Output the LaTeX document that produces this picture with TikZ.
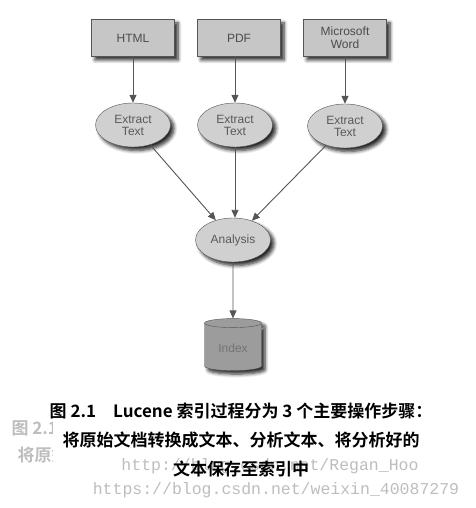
\documentclass[tikz,border=0pt]{standalone}
\usepackage{fontspec}
\setmainfont{Liberation Sans}
\newfontfamily\cjkfont{Noto Sans CJK SC}[BoldFont=* Bold]
\newfontfamily\markfont{Liberation Mono}
\usetikzlibrary{shapes.geometric, arrows.meta, shadows, shadows.blur}

\definecolor{boxgray}{HTML}{C6C6C6}
\definecolor{ovalgray}{HTML}{D0D0D0}
\definecolor{dbgray}{HTML}{9C9C9C}
\definecolor{linegray}{HTML}{555555}
\definecolor{markgray}{HTML}{BDBDBD}

\begin{document}
\begin{tikzpicture}[x=1pt, y=-1pt,
    softshadow/.style={blur shadow={shadow xshift=3.5pt, shadow yshift=-3.5pt,
      shadow blur radius=3.5pt, shadow blur steps=6, shadow opacity=85}},
    srcbox/.style={draw=linegray, fill=boxgray, minimum width=83pt,
      minimum height=37pt, align=center, text=black!70,
      font=\fontsize{12}{13}\selectfont, softshadow},
    oval/.style={ellipse, draw=linegray, fill=ovalgray, minimum width=75pt,
      minimum height=44pt, inner sep=0pt, align=center, text=black!65,
      font=\fontsize{12}{12}\selectfont, softshadow},
    store/.style={cylinder, shape border rotate=90, aspect=0.25,
      draw=linegray, fill=dbgray, minimum width=57pt, minimum height=52pt,
      text=black!55, font=\fontsize{12}{13}\selectfont, softshadow},
    flow/.style={draw=linegray, line width=0.9pt,
      -{Triangle[length=8pt, width=7pt]}},
    caption/.style={font=\cjkfont\bfseries\fontsize{17}{20}\selectfont},
    watermark/.style={font=\markfont\fontsize{16.5}{18}\selectfont, text=markgray}
  ]
  \useasboundingbox (0,0) rectangle (475,508);

  % source documents
  \node[srcbox] (html) at (133,38) {HTML};
  \node[srcbox] (pdf)  at (239,38) {PDF};
  \node[srcbox] (word) at (345,38) {Microsoft\\Word};

  % extraction
  \node[oval] (exhtml) at (133,125) {Extract\\Text};
  \node[oval] (expdf)  at (235,125) {Extract\\Text};
  \node[oval] (exword) at (345,126) {Extract\\Text};

  \node[oval] (analysis) at (233,240) {Analysis};
  \node[store] (index) at (233,348) {Index};

  \draw[flow] (html) -- (exhtml);
  \draw[flow] (pdf.south -| expdf) -- (expdf);
  \draw[flow] (word) -- (exword);
  \draw[flow] (exhtml) -- (analysis);
  \draw[flow] (expdf.south) -- (expdf.south |- analysis.north);
  \draw[flow] (exword) -- (analysis);
  \draw[flow] (analysis) -- (index);

  % faded copy at the left
  \begin{scope}
    \clip (0,395) rectangle (52,480);
    \node[caption, text=markgray, anchor=west] (ghost1) at (8,428) {图 2.1};
    \node[caption, text=markgray, anchor=west] (ghost2) at (14,455) {将原始};
  \end{scope}

  % watermarks
  \node[watermark] (mark1) at (270,466) {http://blog.csdn.net/Regan\_Hoo};
  \node[watermark] (mark2) at (276,490) {https://blog.csdn.net/weixin\_40087279};

  % caption
  \node[caption] (cap1) at (241,411) {图 2.1\quad Lucene 索引过程分为 3 个主要操作步骤：};
  \node[caption] (cap2) at (241,440) {将原始文档转换成文本、分析文本、将分析好的};
  \node[caption] (cap3) at (241,469) {文本保存至索引中};
\end{tikzpicture}
\end{document}
